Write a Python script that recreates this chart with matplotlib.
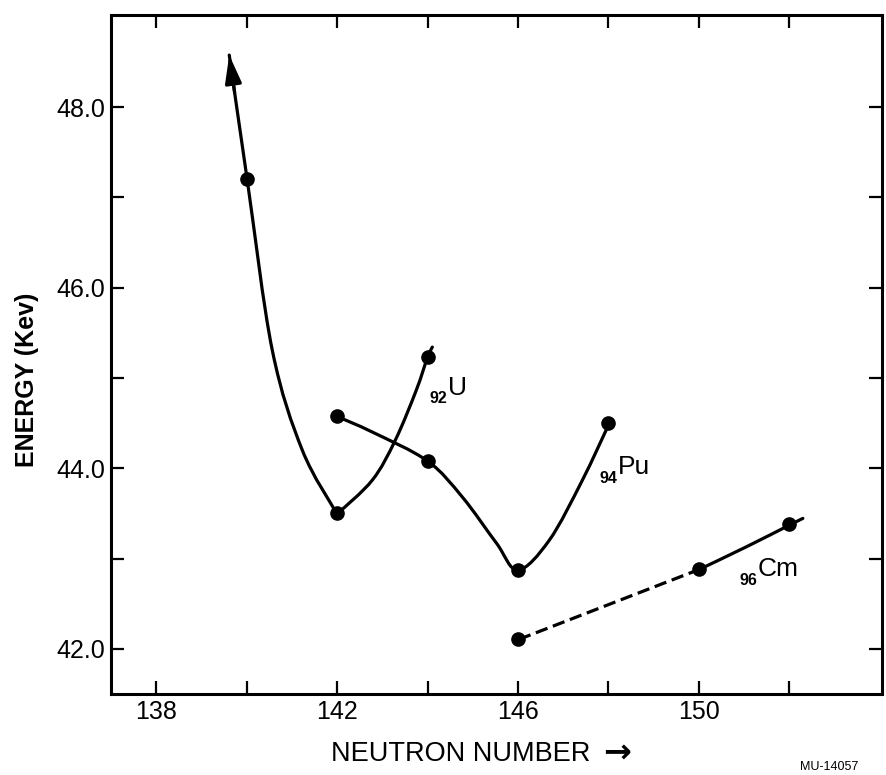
import matplotlib
matplotlib.use("Agg")
import matplotlib.pyplot as plt
from matplotlib.path import Path
from matplotlib.patches import PathPatch
import numpy as np

plt.rcParams['font.family'] = ['Liberation Sans', 'DejaVu Sans']

# ---------------- data ----------------
# measured points (neutron number, energy in keV)
u_n = [140, 142, 144]
u_e = [47.2, 43.5, 45.23]
pu_n = [142, 144, 146, 148]
pu_e = [44.58, 44.08, 42.87, 44.50]
cm_n = [146, 150, 152]
cm_e = [42.11, 42.88, 43.38]

# hand-drawn curves
u_left_n = [139.615, 140.013, 140.566, 141.230, 142.0]
u_left_e = [48.576, 47.192, 45.309, 44.201, 43.493]
u_right_n = [142.0, 142.779, 143.288, 143.752, 144.0, 144.106]
u_right_e = [43.493, 43.869, 44.312, 44.866, 45.23, 45.342]
pu_curve_n = [141.98, 142.779, 144.0, 144.770, 145.522, 146.0, 146.695, 147.425, 148.022]
pu_curve_e = [44.578, 44.401, 44.080, 43.681, 43.172, 42.873, 43.205, 43.869, 44.501]
cm_dash_n = [146.02, 150.01]
cm_dash_e = [42.105, 42.88]
cm_solid_n = [150.01, 151.05, 152.04, 152.30]
cm_solid_e = [42.88, 43.13, 43.38, 43.445]

x_ticks = [138, 140, 142, 144, 146, 148, 150, 152]
x_tick_labels = ['138', '', '142', '', '146', '', '150', '']
y_ticks = [42, 43, 44, 45, 46, 47, 48]
y_tick_labels = ['42.0', '', '44.0', '', '46.0', '', '48.0']

labels = [('92', 'U', 144.44, 44.81, 44.722),
          ('94', 'Pu', 148.20, 43.94, 43.836),
          ('96', 'Cm', 151.285, 42.806, 42.707)]


def catmull_rom_path(xs, ys):
    pts = np.column_stack([xs, ys]).astype(float)
    ext = np.vstack([pts[0], pts, pts[-1]])
    verts = [tuple(pts[0])]
    codes = [Path.MOVETO]
    for i in range(1, len(ext) - 2):
        p0, p1, p2, p3 = ext[i - 1], ext[i], ext[i + 1], ext[i + 2]
        c1 = p1 + (p2 - p0) / 6.0
        c2 = p2 - (p3 - p1) / 6.0
        verts += [tuple(c1), tuple(c2), tuple(p2)]
        codes += [Path.CURVE4] * 3
    return Path(verts, codes)


fig = plt.figure(figsize=(8.86, 7.75), dpi=100)
ax = fig.add_axes([111 / 886, 1 - 694 / 775, 771 / 886, 679 / 775])
ax.set_xlim(137, 154.05)
ax.set_ylim(41.5, 49.02)

LW = 2.3
for xs, ys in [(u_left_n, u_left_e), (u_right_n, u_right_e), (pu_curve_n, pu_curve_e),
               (cm_solid_n, cm_solid_e)]:
    ax.add_patch(PathPatch(catmull_rom_path(xs, ys), fill=False, lw=LW, color='black',
                           capstyle='round', joinstyle='round'))

ax.plot(cm_dash_n, cm_dash_e, color='black', lw=LW, dashes=(3.9, 1.8), dash_capstyle='butt')

# arrow head at the start of the U curve
tip = np.array([u_left_n[0], u_left_e[0]])
nxt = np.array([u_left_n[1], u_left_e[1]])
ax.annotate('', xy=tuple(tip), xytext=tuple(tip + 0.3 * (nxt - tip)),
            arrowprops=dict(arrowstyle='-|>,head_length=0.85,head_width=0.25',
                            mutation_scale=20, lw=LW, color='black',
                            shrinkA=0, shrinkB=0))

for xs, ys in [(u_n, u_e), (pu_n, pu_e), (cm_n, cm_e)]:
    ax.plot(xs, ys, 'o', color='black', ms=9.5, mec='black')

for sub, sym, xj, yb, ysub in labels:
    ax.text(xj, ysub, sub, ha='right', va='baseline', fontsize=11.5, fontweight='bold')
    ax.text(xj + 0.02, yb, sym, ha='left', va='baseline', fontsize=19)

ax.set_xticks(x_ticks)
ax.set_xticklabels(x_tick_labels)
ax.set_yticks(y_ticks)
ax.set_yticklabels(y_tick_labels)
ax.tick_params(direction='in', length=9.5, width=1.6, labelsize=18, pad=4,
               top=True, right=True)
for s in ax.spines.values():
    s.set_linewidth(2.2)

ax.set_xlabel('NEUTRON NUMBER', fontsize=19.5, ha='left')
ax.xaxis.set_label_coords((331 - 111) / 771, -0.069)
fig.text(603 / 886, 1 - 752 / 775, '\u2192', fontsize=24, fontweight='bold',
         family='DejaVu Sans', ha='left', va='center')
ax.set_ylabel('ENERGY (Kev)', fontsize=18, fontweight='bold')
ax.yaxis.set_label_coords(-0.094, 0.4625)

fig.text(800 / 886, 0.002, 'MU-14057', fontsize=9, va='bottom', ha='left')

fig.savefig('out.png', dpi=100)
